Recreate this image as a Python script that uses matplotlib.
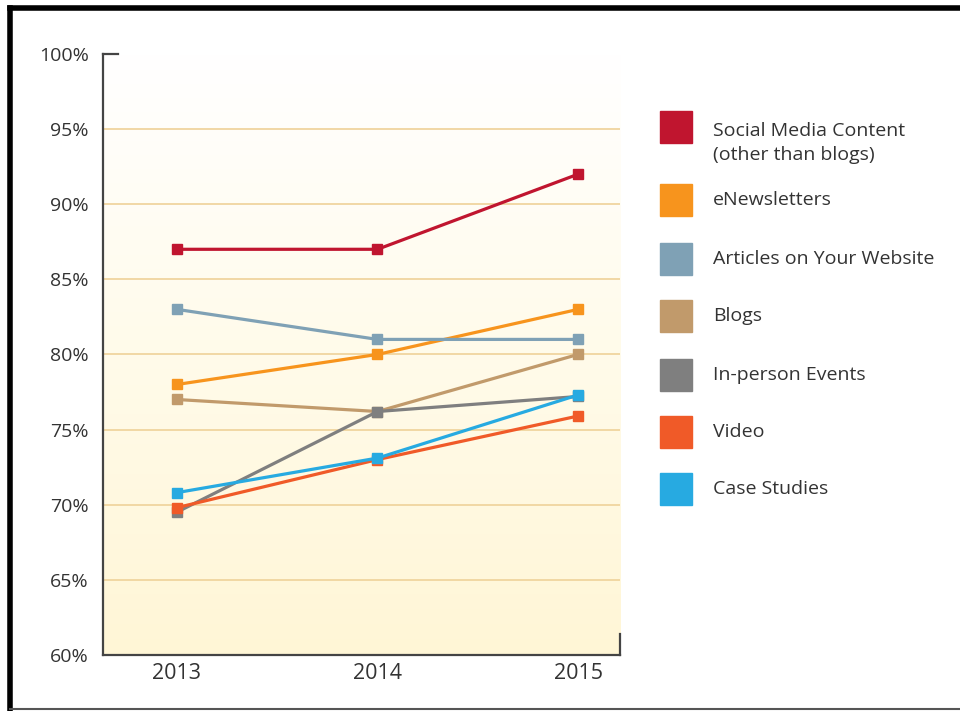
import numpy as np
import matplotlib.pyplot as plt
from matplotlib.colors import LinearSegmentedColormap
from matplotlib.patches import Rectangle
from matplotlib.lines import Line2D

plt.rcParams['font.family'] = ['Open Sans', 'DejaVu Sans']

# data
years = [2013, 2014, 2015]
social = [87, 87, 92]
enews = [78, 80, 83]
articles = [83, 81, 81]
blogs = [77, 76.2, 80]
events = [69.5, 76.2, 77.2]
video = [69.8, 73, 75.9]
cases = [70.8, 73.1, 77.3]

labels = ["Social Media Content\n(other than blogs)", "eNewsletters",
          "Articles on Your Website", "Blogs", "In-person Events",
          "Video", "Case Studies"]
colors = ["#C0152F", "#F7941D", "#7FA1B5", "#C19A6B", "#7F7F7F",
          "#F05A28", "#27AAE1"]
series = [social, enews, articles, blogs, events, video, cases]
y_ticks = [60, 65, 70, 75, 80, 85, 90, 95, 100]

fig = plt.figure(figsize=(9.6, 7.11), dpi=100)
ax = fig.add_axes([0.107, 0.079, 0.539, 0.845])

xlim = (2012.63, 2015.21)
ylim = (60, 100)

# soft cream gradient behind the plot (white at top, cream at bottom)
cmap = LinearSegmentedColormap.from_list("cream", ["#FFFFFF", "#FFFBEA", "#FFF6D6"])
grad = np.linspace(1, 0, 256).reshape(-1, 1)
ax.imshow(grad, cmap=cmap, aspect="auto", extent=(xlim[0], xlim[1], ylim[0], ylim[1]),
          zorder=0, origin="lower")

for y in y_ticks[1:-1]:
    ax.axhline(y, color="#F0D59F", lw=1.3, zorder=1)

for vals, c in zip(series, colors):
    ax.plot(years, vals, color=c, lw=2.3, marker="s", ms=7, zorder=3)

ax.set_xlim(*xlim)
ax.set_ylim(*ylim)
ax.set_xticks(years)
ax.set_xticklabels([str(y) for y in years], fontsize=15.5, color="#333333")
ax.set_yticks(y_ticks)
ax.set_yticklabels([f"{y}%" for y in y_ticks], fontsize=14, color="#333333")
ax.tick_params(axis="x", length=0, pad=6)
ax.tick_params(axis="y", length=0, pad=10)

for s in ["top", "right"]:
    ax.spines[s].set_visible(False)
for s in ["left", "bottom"]:
    ax.spines[s].set_color("#444444")
    ax.spines[s].set_linewidth(1.6)

# small end caps on the axes
ax.add_line(Line2D([0, 0.03], [1, 1], transform=ax.transAxes, color="#444444", lw=1.6, clip_on=False))
ax.add_line(Line2D([1, 1], [0, 0.035], transform=ax.transAxes, color="#444444", lw=1.6, clip_on=False))

# legend on the right
leg_y = [127, 200, 259, 316, 375, 432, 489]
for lab, c, yp in zip(labels, colors, leg_y):
    fy = 1 - yp / 711
    fig.patches.append(Rectangle((660 / 960, fy - 16 / 711), 32 / 960, 32 / 711,
                                 transform=fig.transFigure, color=c))
    if "\n" in lab:
        fig.text(713 / 960, 1 - 143 / 711, lab, fontsize=14, color="#333333",
                 va="center", ha="left", linespacing=1.45)
    else:
        fig.text(713 / 960, fy, lab, fontsize=14, color="#333333",
                 va="center", ha="left")

# frame around the picture
fig.add_artist(Line2D([10 / 960, 10 / 960], [0, 1 - 8 / 711], transform=fig.transFigure, color="black", lw=4))
fig.add_artist(Line2D([10 / 960, 1], [1 - 8 / 711, 1 - 8 / 711], transform=fig.transFigure, color="black", lw=4))
fig.add_artist(Line2D([10 / 960, 1], [2 / 711, 2 / 711], transform=fig.transFigure, color="#555555", lw=1.5))

fig.savefig("out.png", dpi=100)
